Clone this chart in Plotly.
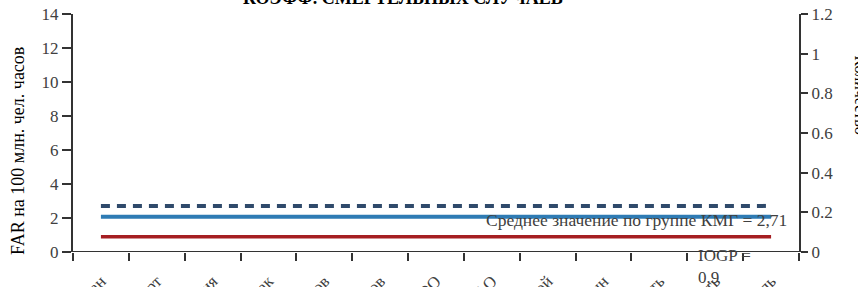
import plotly.graph_objects as go

categories = ["ПетроКазахстан", "КМГ-Транспорт", "Интергаз Центральная Азия", "КазТрансГаз Аймак",
              "ОМГ Нефтепромыслов", "ЭМГ Нефтепромыслов", "Казахтуркмунай ТОО", "Каражанбасмунай АО",
              "КазМунайТениз Морской", "Ремонт скважин", "Павлодарская Нефть", "Атырауская Нефть", "Кумколь"]
kmg_mean = [2.71] * 13
kmg_far = [2.07] * 13
iogp = [0.9] * 13

FONT = "Times New Roman, Liberation Serif, Tinos, DejaVu Serif, serif"

W, H = 858, 287
# plot area in page pixels
PL, PR, PT, PB = 73, 799, 14, 252
PW, PH = PR - PL, PB - PT


def px(x):
    return (x - PL) / PW


def py(y):
    return (PB - y) / PH


fig = go.Figure()
fig.add_trace(go.Scatter(x=categories, y=kmg_far, mode="lines",
                         line=dict(color="#2E7BB4", width=4), showlegend=False))
fig.add_trace(go.Scatter(x=categories, y=iogp, mode="lines",
                         line=dict(color="#A51E22", width=3.5), showlegend=False))
fig.add_trace(go.Scatter(x=categories, y=kmg_mean, mode="lines",
                         line=dict(color="#2F4A6B", width=4, dash="9px,7px"), showlegend=False))
fig.add_trace(go.Scatter(x=categories, y=[None] * 13, yaxis="y2", mode="lines", showlegend=False))

fig.update_layout(
    width=W, height=H,
    margin=dict(l=PL, r=W - PR, t=PT, b=H - PB),
    paper_bgcolor="white", plot_bgcolor="white",
    font=dict(family=FONT, size=17, color="#404040"),
    xaxis=dict(type="category", range=[-0.5, 12.5], tickson="boundaries", ticks="outside",
               ticklen=8, tickwidth=2, tickcolor="#333", showline=False, showgrid=False,
               tickangle=-45, ticklabelstandoff=15,
               tickfont=dict(family=FONT, size=17, color="#404040"), automargin=False,
               zeroline=False),
    yaxis=dict(range=[0, 14], dtick=2, ticks="outside", ticklen=9, tickwidth=2, tickcolor="#333",
               showline=True, linewidth=2, linecolor="#333", showgrid=False, zeroline=False,
               ticklabeloverflow="allow",
               tickfont=dict(family=FONT, size=17, color="#404040"), automargin=False),
    yaxis2=dict(range=[0, 1.2], dtick=0.2, overlaying="y", side="right", ticks="outside", ticklen=7,
                tickwidth=2, tickcolor="#333", showline=True, linewidth=2, linecolor="#333",
                showgrid=False, zeroline=False, ticklabeloverflow="allow",
                tickfont=dict(family=FONT, size=17, color="#404040"), automargin=False),
    shapes=[dict(type="line", xref="paper", yref="y", x0=px(63), x1=px(807), y0=0, y1=0,
                 line=dict(color="#333", width=2))],
    annotations=[
        dict(text="<b>КОЭФФ. СМЕРТЕЛЬНЫХ СЛУЧАЕВ</b>", xref="paper", yref="paper",
             x=px(403), y=py(-2), yanchor="middle", showarrow=False,
             font=dict(family=FONT, size=18, color="#000")),
        dict(text="FAR на 100 млн. чел. часов", xref="paper", yref="paper", x=px(18),
             y=py(151), textangle=-90, showarrow=False, xanchor="center", yanchor="middle",
             font=dict(family=FONT, size=18, color="#000")),
        dict(text="Количество", xref="paper", yref="paper", x=px(860.5),
             y=py(95), textangle=90, showarrow=False, xanchor="center", yanchor="middle",
             font=dict(family=FONT, size=16, color="#000")),
        dict(text="Среднее значение по группе КМГ = 2,71", xref="paper", yref="paper",
             x=px(789), xanchor="right", y=py(220), yanchor="middle",
             showarrow=False, font=dict(family=FONT, size=17.5, color="#404040")),
        dict(text="IOGP =<br>0,9", xref="paper", yref="paper", align="left",
             x=px(696), xanchor="left", y=py(244), yanchor="top",
             showarrow=False, font=dict(family=FONT, size=17, color="#404040")),
    ],
)

fig.write_html("out.html", config={"displayModeBar": False},
               post_script="document.body.style.margin='0';")
